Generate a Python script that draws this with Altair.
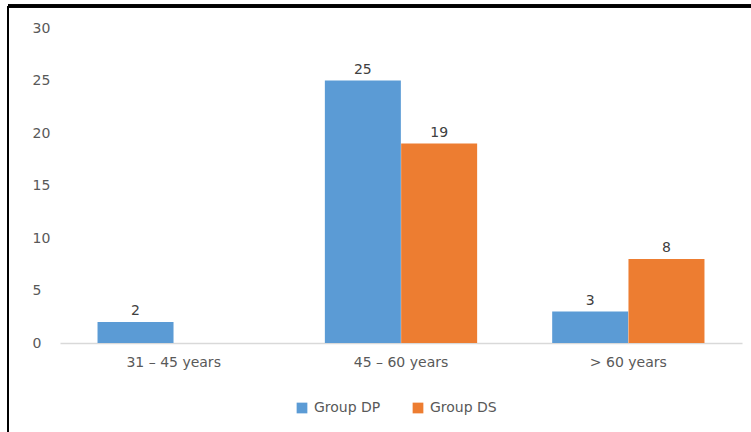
import altair as alt
import pandas as pd

categories = ["31 – 45 years", "45 – 60 years", "> 60 years"]
groups = ["Group DP", "Group DS"]
dp_values = [2, 25, 3]
ds_values = [None, 19, 8]

rows = []
for c, dp, ds in zip(categories, dp_values, ds_values):
    rows.append({"Age": c, "Group": "Group DP", "Value": dp})
    if ds is not None:
        rows.append({"Age": c, "Group": "Group DS", "Value": ds})
df = pd.DataFrame(rows)

FONT = "DejaVu Sans"
GRAY = "#595959"
FS = 14

x = alt.X("Age:N", sort=categories, title=None,
          scale=alt.Scale(paddingInner=0, paddingOuter=0),
          axis=alt.Axis(labelAngle=0, ticks=False, domainColor="#D9D9D9", domainWidth=1.5,
                        labelColor=GRAY, labelFont=FONT, labelFontSize=FS, labelPadding=12))
xoff = alt.XOffset("Group:N", sort=groups, scale=alt.Scale(paddingInner=0, paddingOuter=0.49))
y = alt.Y("Value:Q", title=None,
          scale=alt.Scale(domain=[0, 30]),
          axis=alt.Axis(values=[0, 5, 10, 15, 20, 25, 30], grid=False, domain=False, ticks=False,
                        labelColor=GRAY, labelFont=FONT, labelFontSize=FS, labelPadding=28,
                        labelAlign="left"))
color = alt.Color("Group:N", sort=groups,
                  scale=alt.Scale(domain=groups, range=["#5B9BD5", "#ED7D31"]),
                  legend=alt.Legend(title=None, orient="none", legendX=235, legendY=373,
                                    direction="horizontal", symbolType="square", symbolSize=115,
                                    symbolStrokeWidth=0, labelColor=GRAY, labelFont=FONT,
                                    labelFontSize=FS, columnPadding=30, labelOffset=5))

bars = alt.Chart(df).mark_bar(size=76).encode(x=x, xOffset=xoff, y=y, color=color)
labels = alt.Chart(df).mark_text(dy=-11, font=FONT, fontSize=FS, color="#404040").encode(
    x=alt.X("Age:N", sort=categories), xOffset=alt.XOffset("Group:N", sort=groups),
    y="Value:Q", text="Value:Q")

top_line = alt.Chart(df).mark_rule(color="black", strokeWidth=3).encode(
    x=alt.value(-52), x2=alt.value(700), y=alt.value(-22))
left_line = alt.Chart(df).mark_rule(color="black", strokeWidth=2).encode(
    x=alt.value(-52), y=alt.value(-22), y2=alt.value(410))

chart = alt.layer(bars, labels, top_line, left_line).properties(
    width=682, height=315,
    background="white",
    autosize=alt.AutoSizeParams(type="none"),
    padding={"left": 60, "top": 28, "right": 9, "bottom": 89},
).configure_view(stroke=None)

chart.save("out.html", embed_options={"renderer": "svg", "actions": False})
